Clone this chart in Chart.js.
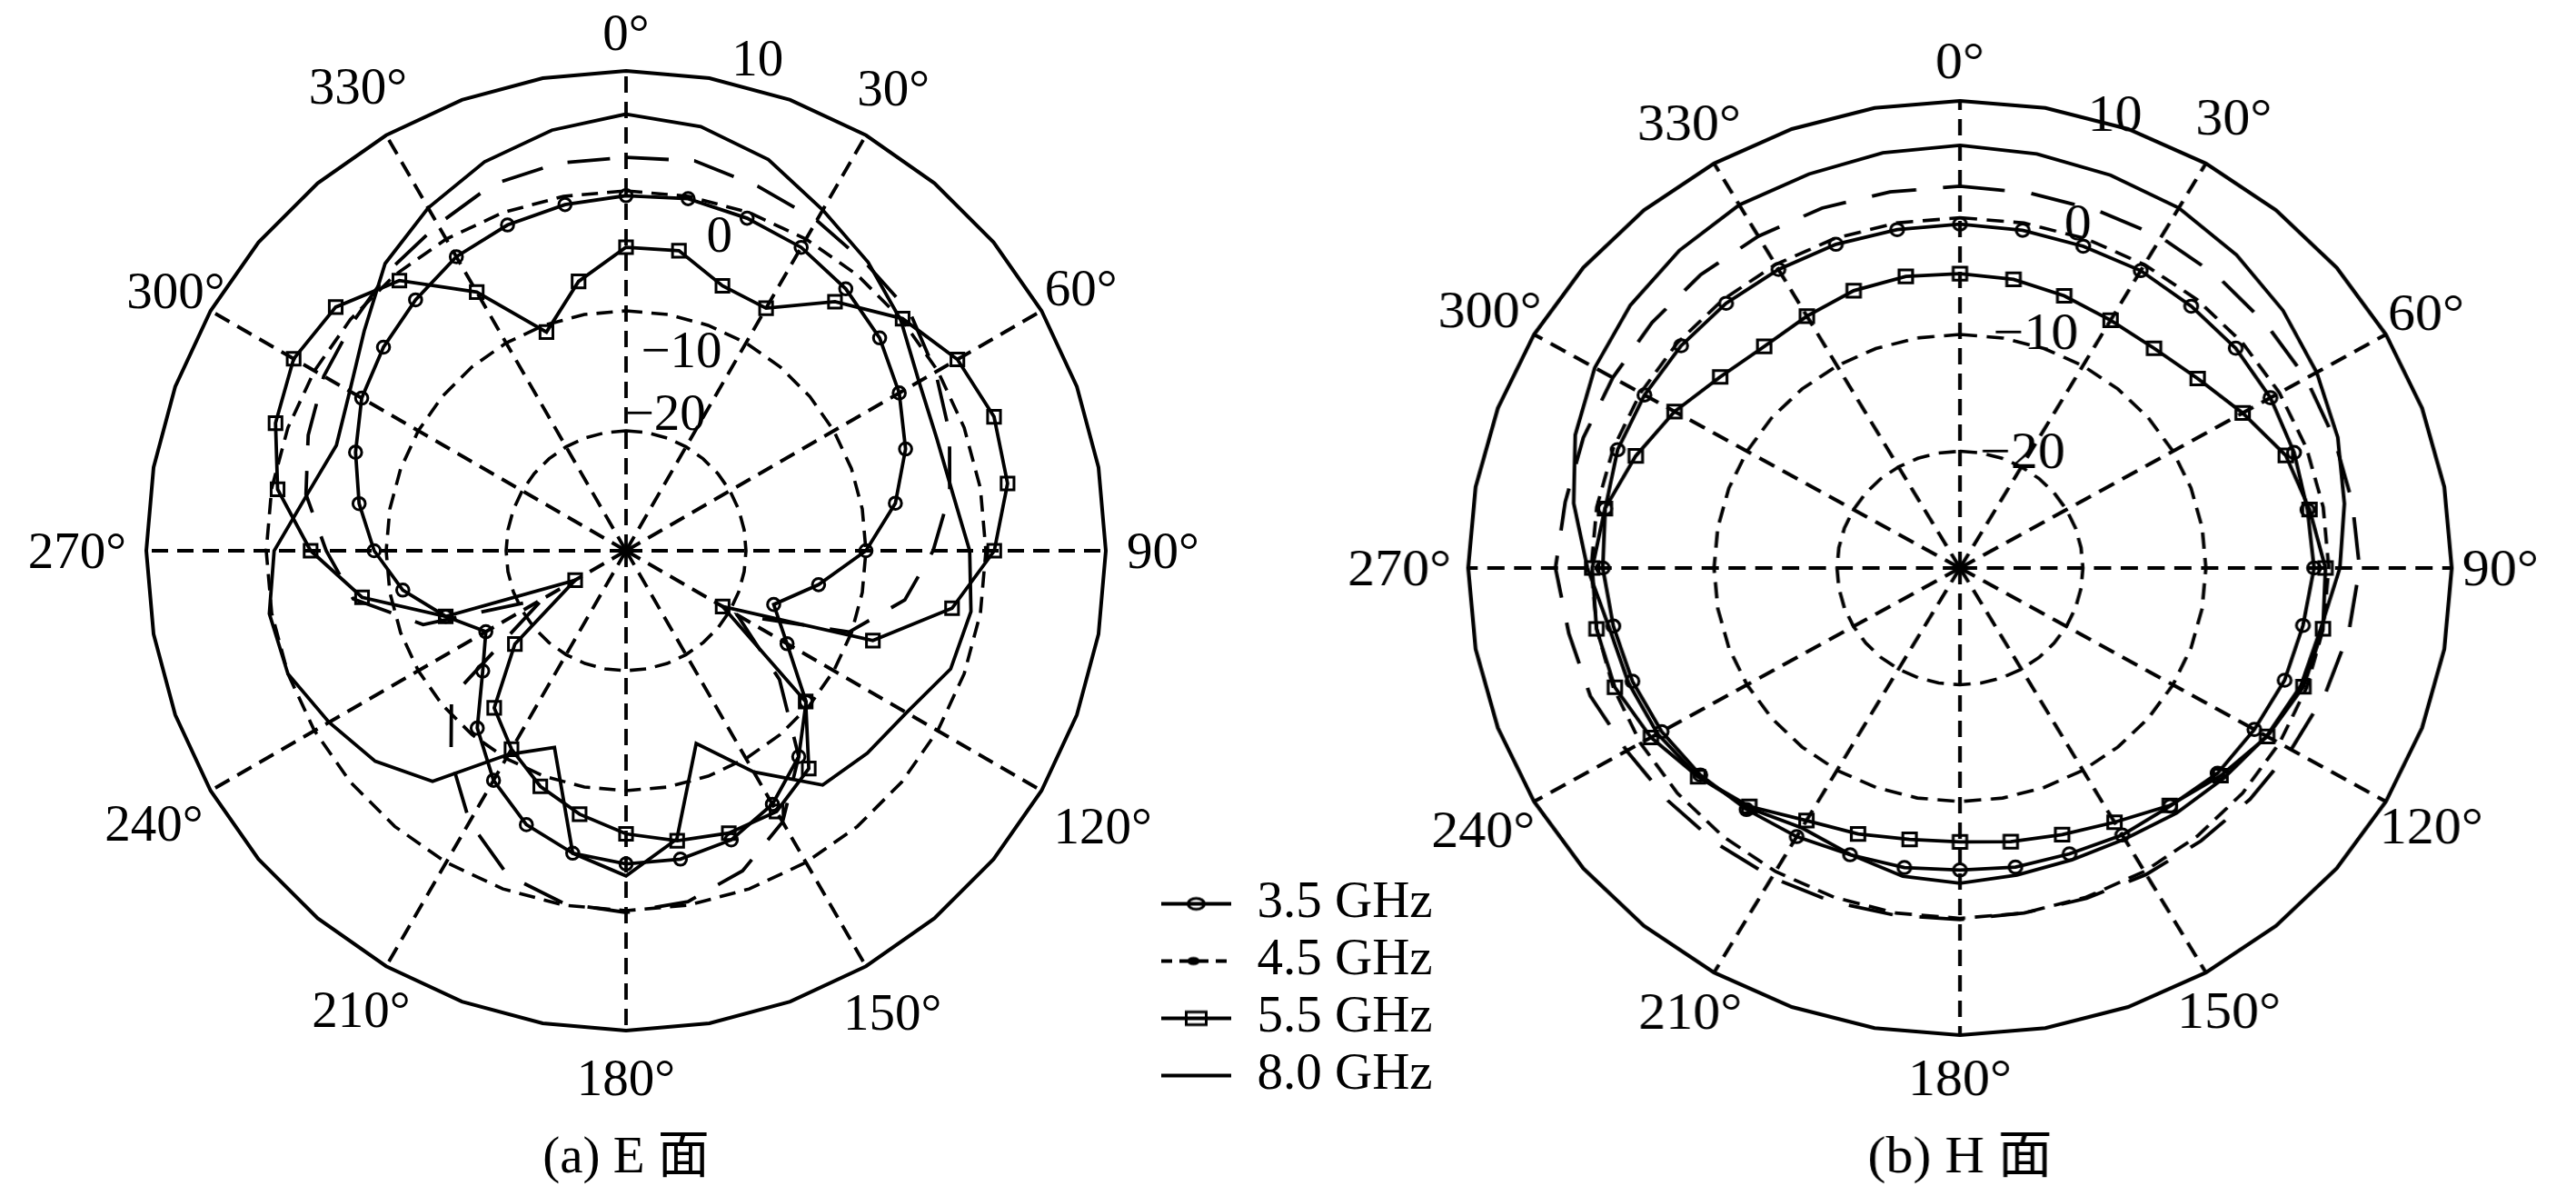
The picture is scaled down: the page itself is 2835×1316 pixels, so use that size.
<!DOCTYPE html>
<html>
<head>
<meta charset="utf-8">
<script src="https://cdn.jsdelivr.net/npm/chart.js@4.4.1/dist/chart.umd.min.js"></script>
<style>
html,body{margin:0;padding:0;background:#fff;width:2835px;height:1316px;overflow:hidden;position:relative;}
#cE{position:absolute;left:0;top:-6px;}
#cH{position:absolute;left:1450px;top:0;transform:scaleX(1.053);transform-origin:707px 0;}
</style>
</head>
<body>
<canvas id="cE" width="1617" height="1330"></canvas>
<canvas id="cH" width="1385" height="1320"></canvas>
<script>
// ---------- data ----------
const angleLabels = [0,10,20,30,40,50,60,70,80,90,100,110,120,130,140,150,160,170,
                     180,190,200,210,220,230,240,250,260,270,280,290,300,310,320,330,340,350];
const angleTickLabels = ['0°','30°','60°','90°','120°','150°','180°','210°','240°','270°','300°','330°'];
const radialTicks = [-30,-20,-10,0,10];
const radialTickLabels = ['\u221220','\u221210','0','10'];
const seriesNames = ['3.5 GHz','4.5 GHz','5.5 GHz','8.0 GHz'];
const captions = ['(a) E 面','(b) H 面'];

// E plane (dB)
const E_35 = [-0.4,-0.2,-0.5,-0.8,-1.5,-2.4,-3.7,-5.2,-7.2,-10.0,-13.7,-16.9,-14.5,-10.4,-7.6,-5.6,-4.35,-3.9,
              -3.9,-4.4,-5.7,-7.9,-10.7,-14.4,-16.5,-14.0,-11.1,-9.0,-7.4,-6.0,-4.55,-3.6,-2.7,-1.7,-1.1,-0.7];
const E_45 = [2.8,3.0,2.3,1.8,1.2,0.9,-0.2,-1.3,-2.6,-4.4,-6.4,-10.2,-19.3,-13.3,-7.6,-3.9,-1.6,-0.3,
              0.15,-0.15,-1.2,-3.9,-7.3,-11.0,-22.0,-12.0,-6.9,-5.0,-2.9,-1.8,-0.9,-0.3,0.6,1.4,2.5,2.8];
const E_55 = [-4.7,-4.6,-6.5,-6.65,-2.9,0.1,1.9,2.65,2.3,0.7,-2.4,-8.1,-20.7,-10.45,-6.3,-4.9,-4.95,-5.45,
              -6.4,-7.7,-9.1,-10.9,-12.9,-17.9,-25.1,-14.0,-7.65,-3.7,-0.5,1.1,2.0,1.6,-0.6,-5.1,-10.6,-7.2];
const E_80 = [6.4,5.9,4.7,2.8,1.4,-0.1,-1.8,-2.45,-2.35,-1.35,-0.8,-1.2,-3.0,-3.75,-4.5,-8.7,-12.9,-5.6,
              -2.9,-4.4,-12.55,-10.4,-4.9,-2.7,-1.4,0.0,0.2,-0.66,-3.0,-4.3,-3.4,-1.5,1.25,3.0,4.5,5.6];

// H plane (dB)
const H_35 = [-0.55,-0.63,-0.68,-0.6,-0.74,-0.72,-0.84,-1.08,-1.3,-1.2,-1.67,-1.9,-2.35,-2.65,-3.4,-3.6,-3.95,-4.0,
              -4.14,-3.96,-3.87,-3.44,-3.0,-2.43,-1.98,-1.65,-1.37,-0.95,-0.7,-0.37,-0.37,-0.39,-0.41,-0.48,-0.5,-0.58];
const H_45 = [2.7,2.6,2.6,2.7,2.6,2.5,2.5,2.4,2.4,2.5,2.1,1.6,1.1,0.8,0.5,0.3,0.1,0.0,
              0.1,0.2,0.4,0.6,0.8,1.0,1.3,2.0,2.3,2.9,2.6,2.6,2.6,2.7,2.8,2.8,2.8,2.7];
const H_55 = [-4.8,-4.9,-5.2,-5.5,-5.44,-4.76,-3.45,-1.8,-1.13,-0.27,-0.02,-0.27,-1.15,-2.33,-3.46,-4.86,-5.7,-6.2,
              -6.55,-6.4,-5.77,-5.03,-3.35,-2.19,-0.98,-0.13,0.02,-0.09,-0.68,-1.94,-3.2,-4.54,-5.23,-5.1,-4.73,-4.64];
const H_80 = [6.2,6.0,5.8,5.6,5.0,4.3,3.5,2.7,1.75,0.9,-0.2,-0.5,-1.2,-2.0,-2.6,-3.2,-3.4,-3.3,
              -3.0,-3.2,-3.9,-4.3,-3.2,-2.2,-1.6,-1.3,-1.0,0.3,1.9,3.3,4.3,5.0,5.5,5.9,5.9,6.1];

// ---------- styling / layout ----------
const FONT = "'Liberation Serif', 'Noto Sans CJK SC', serif";
const FS = 57;
// radial distance (in axis units) at which each angle label is centred
const E_labelR = [13.2,14.55,13.8,14.77,15.9,14.4,13.95,14.2,15.45,15.76,13.35,14.7];
const H_labelR = [13.42,14.55,13.77,13.97,14.28,13.74,13.66,13.88,14.79,15.6,14.16,14.05];

function legendImage(kind) {
  const c = document.createElement('canvas');
  c.width = 132; c.height = 26;
  const g = c.getContext('2d');
  g.strokeStyle = '#000'; g.fillStyle = '#000'; g.lineWidth = 3.8;
  const x0 = 55, x1 = 132, y = 13, xm = (x0 + x1) / 2;
  g.beginPath();
  if (kind === 1) g.setLineDash([12, 8]);
  g.moveTo(x0, y); g.lineTo(x1, y); g.stroke();
  g.setLineDash([]);
  if (kind === 0) { g.lineWidth = 3; g.beginPath(); g.ellipse(xm, y, 9, 6, 0, 0, Math.PI * 2); g.stroke(); }
  if (kind === 1) { g.beginPath(); g.ellipse(xm - 3, y, 7, 4.5, 0, 0, Math.PI * 2); g.fill(); }
  if (kind === 2) { g.lineWidth = 3; g.strokeRect(xm - 11, y - 7, 22, 14); }
  return c;
}
const legendImgs = [0, 1, 2, 3].map(legendImage);

function makeSets(d35, d45, d55, d80) {
  const base = {borderColor: '#000', borderWidth: 3.8, fill: false, pointBorderColor: '#000',
                pointBackgroundColor: 'rgba(0,0,0,0)', pointBorderWidth: 3};
  return [
    Object.assign({}, base, {label: seriesNames[0], data: d35, pointStyle: 'circle', pointRadius: 6.8}),
    Object.assign({}, base, {label: seriesNames[1], data: d45, borderDash: [47, 28], pointRadius: 0}),
    Object.assign({}, base, {label: seriesNames[2], data: d55, pointStyle: 'rect', pointRadius: 10}),
    Object.assign({}, base, {label: seriesNames[3], data: d80, pointRadius: 0})
  ];
}

const polarText = {
  id: 'polarText',
  afterDraw(chart, args, opts) {
    const r = chart.scales.r, ctx = chart.ctx;
    ctx.save();
    ctx.fillStyle = '#000';
    ctx.font = FS + 'px ' + FONT;
    ctx.textAlign = 'center';
    ctx.textBaseline = 'middle';
    angleTickLabels.forEach((t, k) => {
      const p = r.getPointPositionForValue(k * 3, opts.labelR[k]);
      ctx.fillText(t, p.x, p.y + 4);
    });
    radialTickLabels.forEach((t, k) => {
      const pos = opts.tickPos[k];
      const p = r.getPointPositionForValue(pos[0] / 10, pos[1]);
      ctx.fillText(t, p.x, p.y + 3);
    });
    ctx.restore();
  }
};

function makeOptions(cfg) {
  return {
    responsive: false,
    animation: false,
    devicePixelRatio: 1,
    layout: {padding: cfg.padding},
    elements: {line: {tension: 0}},
    scales: {
      r: {
        min: radialTicks[0], max: radialTicks[radialTicks.length - 1],
        startAngle: 0,
        ticks: {display: false, stepSize: 10},
        pointLabels: {display: false},
        angleLines: {
          display: true, color: '#000',
          lineWidth: (c) => (c.index % 3 === 0 ? 3.8 : 0),
          borderDash: [18, 10]
        },
        grid: {
          circular: false, color: '#000',
          lineWidth: (c) => (c.tick && c.tick.value === 10 ? 4 : 3.6)
        },
        border: {
          dash: (c) => (c.tick && c.tick.value === 10 ? [] : [18, 10])
        }
      }
    },
    plugins: {
      tooltip: {enabled: false},
      legend: cfg.legend,
      title: {
        display: true, position: 'bottom', fullSize: false, text: cfg.caption, color: '#000',
        font: {family: FONT, size: FS, weight: 'normal', lineHeight: 1.2},
        padding: cfg.titlePadding
      },
      polarText: {labelR: cfg.labelR, tickPos: cfg.tickPos}
    }
  };
}

const legendCfg = {
  display: true, position: 'right', align: 'end', fullSize: false,
  labels: {
    usePointStyle: true, pointStyleWidth: 132, padding: 6, color: '#000',
    font: {family: FONT, size: FS},
    generateLabels: (chart) => chart.data.datasets.map((ds, i) => ({
      text: ds.label, pointStyle: legendImgs[i], datasetIndex: i, hidden: false,
      fontColor: '#000', lineWidth: 0, strokeStyle: 'rgba(0,0,0,0)', fillStyle: 'rgba(0,0,0,0)'
    }))
  }
};

const E_W = 1617, E_LEFT = 161, E_AREA = 1056;
const chartE = new Chart(document.getElementById('cE'), {
  type: 'radar',
  data: {labels: angleLabels, datasets: makeSets(E_35, E_45, E_55, E_80)},
  options: makeOptions({
    padding: {left: E_LEFT, right: 20, top: 0, bottom: 4.6},
    legend: legendCfg,
    caption: captions[0],
    titlePadding: {top: 23, bottom: 10},
    labelR: E_labelR,
    tickPos: [[16, -18.1], [15.5, -12.7], [16.5, -2.6], [15, 12.4]]
  }),
  plugins: [polarText]
});
// make the plotting area exactly E_AREA wide, the legend sitting just to its right
const lw = chartE.legend.width;
chartE.options.layout.padding = {left: E_LEFT, right: Math.max(0, E_W - E_LEFT - E_AREA - lw), top: 0, bottom: 4.6};
chartE.update();

new Chart(document.getElementById('cH'), {
  type: 'radar',
  data: {labels: angleLabels, datasets: makeSets(H_35, H_45, H_55, H_80)},
  options: makeOptions({
    padding: {left: 193, right: 164, top: 111, bottom: 5.8},
    legend: {display: false},
    caption: captions[1],
    titlePadding: {top: 101.8, bottom: 5},
    labelR: H_labelR,
    tickPos: [[27, -18.8], [17, -8.95], [18, 1.05], [18, 10.8]]
  }),
  plugins: [polarText]
});
</script>
</body>
</html>
